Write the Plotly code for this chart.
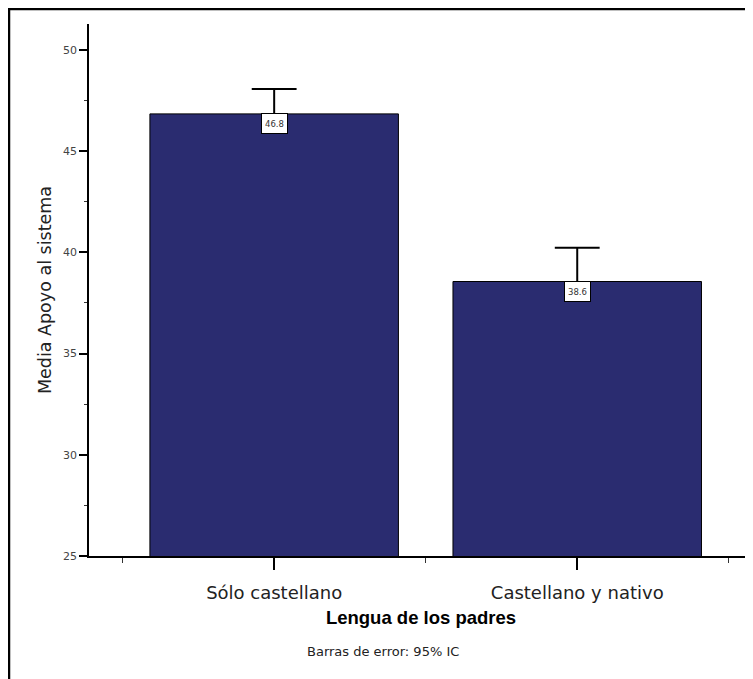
import plotly.graph_objects as go

categories = ["Sólo castellano", "Castellano y nativo"]
means = [46.84, 38.56]
ci_upper = [48.07, 40.23]
y_ticks = [25, 30, 35, 40, 45, 50]

# page has an 8px body margin, so the figure is sized to fill the window
OFF = 8
W, H = 753 - OFF, 679 - OFF
L, R, T, B = 81, 0, 16, 123
pw, ph = W - L - R, H - T - B

def px_x(p):
    """screen x pixel -> paper fraction"""
    return (p - OFF - L) / pw

def px_y(p):
    """screen y pixel -> paper fraction"""
    return (H - B - (p - OFF)) / ph

xpos = list(range(len(categories)))
cap_half = 0.074  # half cap width in category units

fig = go.Figure()
fig.add_trace(go.Bar(
    x=xpos, y=means, width=0.82,
    marker=dict(color="#2A2C70", line=dict(color="black", width=1)),
    showlegend=False, hoverinfo="skip",
))

# upper-only error bars (stem + top cap)
ex, ey = [], []
for xi, m, u in zip(xpos, means, ci_upper):
    ex += [xi, xi, None, xi - cap_half, xi + cap_half, None]
    ey += [m, u, None, u, u, None]
fig.add_trace(go.Scatter(x=ex, y=ey, mode="lines",
                         line=dict(color="black", width=2),
                         showlegend=False, hoverinfo="skip"))

for xi, m in zip(xpos, means):
    fig.add_annotation(x=xi, y=m, text=f"{m:.1f}", showarrow=False,
                       yanchor="top", yshift=1, width=19, height=13,
                       font=dict(family="DejaVu Sans", size=8.5, color="#333333"),
                       bgcolor="white", bordercolor="black", borderwidth=1,
                       borderpad=3)

fig.add_annotation(xref="paper", yref="paper", x=px_x(383), y=px_y(651),
                   text="Barras de error: 95% IC", showarrow=False,
                   xanchor="center", yanchor="middle",
                   font=dict(family="DejaVu Sans", size=13, color="#222222"))

# outer frame (top and left edges)
fig.add_shape(type="line", xref="paper", yref="paper",
              x0=px_x(8), x1=px_x(760), y0=px_y(9), y1=px_y(9),
              line=dict(color="black", width=2.5))
fig.add_shape(type="line", xref="paper", yref="paper",
              x0=px_x(9), x1=px_x(9), y0=px_y(8), y1=px_y(690),
              line=dict(color="black", width=2.5))

fig.update_layout(
    width=W, height=H,
    margin=dict(l=L, r=R, t=T, b=B, pad=0),
    paper_bgcolor="white", plot_bgcolor="white",
    showlegend=False,
    xaxis=dict(
        range=[-0.611, 1.58],
        tickmode="array", tickvals=xpos, ticktext=categories,
        ticks="outside", ticklen=12, tickwidth=1.5, tickcolor="black",
        ticklabelstandoff=8,
        minor=dict(tickmode="array", tickvals=[-0.5, 0.5, 1.5],
                   ticks="outside", ticklen=5, tickwidth=1, tickcolor="#333333"),
        showline=True, linecolor="black", linewidth=1.5,
        showgrid=False, zeroline=False,
        tickfont=dict(family="DejaVu Sans", size=18, color="#222222"),
        title=dict(text="<b>Lengua de los padres</b>", standoff=9,
                   font=dict(family="Liberation Sans, Arial", size=18.5, color="black")),
        fixedrange=True,
    ),
    yaxis=dict(
        range=[25, 51.28],
        tickmode="array", tickvals=y_ticks,
        ticks="outside", ticklen=8, tickwidth=1.5, tickcolor="black",
        minor=dict(dtick=2.5, tick0=25, ticks="outside", ticklen=3,
                   tickwidth=1, tickcolor="#333333"),
        showline=True, linecolor="black", linewidth=1.5,
        showgrid=False, zeroline=False,
        tickfont=dict(family="DejaVu Sans", size=11, color="#444444"),
        title=dict(text="Media Apoyo al sistema", standoff=7,
                   font=dict(family="DejaVu Sans", size=17.5, color="#222222")),
        fixedrange=True,
    ),
)

fig.write_html("out.html")
